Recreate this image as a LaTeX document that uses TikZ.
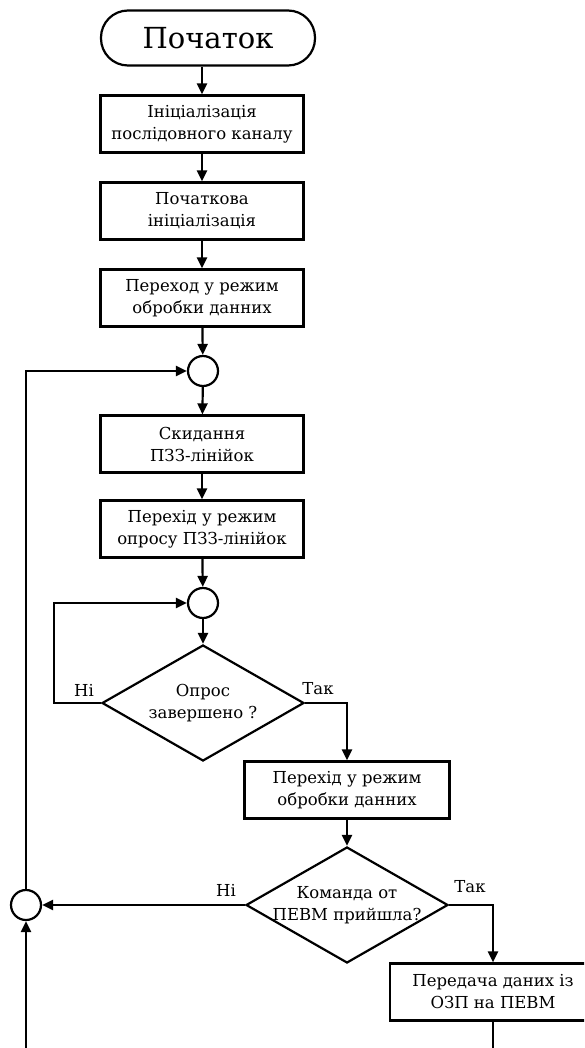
\documentclass[tikz,border=0pt]{standalone}
\usepackage{fontspec}
\setmainfont{DejaVu Serif}
\usetikzlibrary{shapes.geometric,arrows.meta}
\begin{document}
\begin{tikzpicture}[x=1pt,y=-1pt,
  line width=2.2pt,
  font=\fontsize{16.5}{22}\selectfont,
  arr/.style={-{Triangle[length=11pt,width=10pt]}},
  proc/.style={draw,rectangle,minimum width=203pt,minimum height=57pt,align=center,inner sep=2pt},
  term/.style={draw,rectangle,rounded corners=27pt,minimum width=214pt,minimum height=55pt,font=\fontsize{29}{32}\selectfont},
  merge/.style={draw,circle,minimum size=30pt,inner sep=0pt},
  dec/.style={draw,diamond,minimum width=202pt,minimum height=116pt,inner sep=0pt},
  lbl/.style={align=center,inner sep=0pt}]
\useasboundingbox (0,0) rectangle (584,1048);
\clip (0,0) rectangle (584,1048);

% main column
\node[term] (start) at (208,38) {Початок};
\node[proc] (b1) at (202,124) {Ініціалізація\\послідовного каналу};
\node[proc] (b2) at (202,211) {Початкова\\ініціалізація};
\node[proc] (b3) at (202,298) {Переход у режим\\обробки данних};
\node[merge] (c1) at (203,371) {};
\node[proc] (b4) at (202,444) {Скидання\\ПЗЗ-лінійок};
\node[proc] (b5) at (202,529) {Перехід у режим\\опросу ПЗЗ-лінійок};
\node[merge] (c2) at (203,603) {};
\node[dec] (d1) at (203,703) {};
\node[lbl] (t1) at (d1.center) {Опрос\\завершено ?};

% right branch
\node[proc,minimum width=205pt] (b6) at (347,790) {Перехід у режим\\обробки данних};
\node[dec] (d2) at (347,905) {};
\node[lbl] (t2) at (d2.center) {Команда от\\ПЕВМ прийшла?};
\node[proc,minimum width=206pt] (b7) at (493,992) {Передача даних із\\ОЗП на ПЕВМ};
\node[merge] (c3) at (26,905) {};

% branch labels
\node[lbl] (n1) at (84,690) {Ні};
\node[lbl] (y1) at (318,689) {Так};
\node[lbl] (n2) at (226,890) {Ні};
\node[lbl] (y2) at (470,887) {Так};

% connectors
\draw[arr] (start.south -| b1.north) -- (b1.north);
\draw[arr] (b1) -- (b2);
\draw[arr] (b2) -- (b3);
\draw[arr] (b3) -- (c1);
\draw[arr] (c1) -- (b4);
\draw[arr] (b4) -- (b5);
\draw[arr] (b5) -- (c2);
\draw[arr] (c2) -- (d1.north);
\draw[arr] (d1.west) -- ++(-47,0) |- (c2.west);
\draw[arr] (d1.east) -| (b6.north);
\draw[arr] (b6) -- (d2.north);
\draw[arr] (d2.west) -- (c3.east);
\draw[arr] (d2.east) -| (b7.north);
\draw[arr] (b7.south) -- ++(0,40) -| (c3.south);
\draw[arr] (c3.north) |- (c1.west);
\end{tikzpicture}
\end{document}
